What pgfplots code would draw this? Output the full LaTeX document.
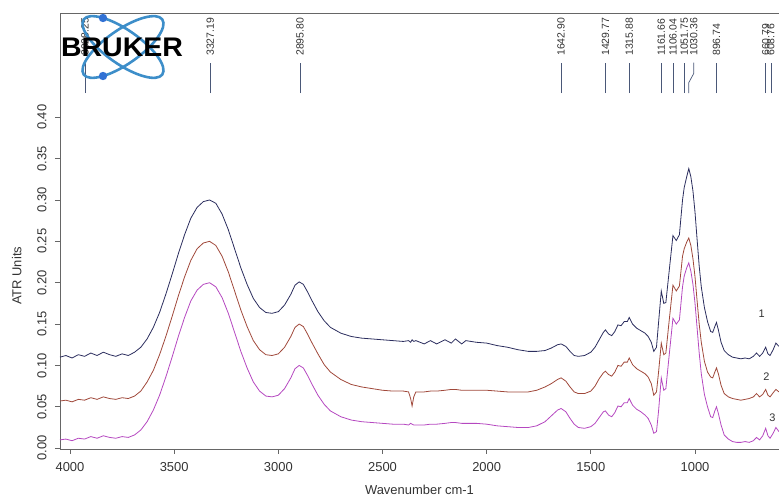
\documentclass[border=0pt]{standalone}
\usepackage{fontspec}
\setmainfont{Liberation Sans}
\usepackage{pgfplots}
\pgfplotsset{compat=1.18}
\usepackage{pgfplotstable}
\definecolor{sp1}{HTML}{2B2D5E}
\definecolor{sp2}{HTML}{A0483A}
\definecolor{sp3}{HTML}{B548C0}
\definecolor{peakc}{HTML}{4A5878}
\definecolor{axc}{HTML}{666666}
\definecolor{txc}{HTML}{333333}
\definecolor{logob}{HTML}{3D8EC9}

% wavenumber, spectrum 1 (top), 2, 3 (bottom)
\pgfplotstableread{
wn c1 c2 c3
4048 0.110 0.057 0.010
4020 0.112 0.058 0.011
3990 0.109 0.056 0.009
3960 0.113 0.059 0.012
3930 0.111 0.058 0.011
3900 0.115 0.061 0.014
3870 0.112 0.059 0.012
3840 0.116 0.062 0.015
3810 0.113 0.060 0.013
3780 0.111 0.059 0.012
3750 0.114 0.061 0.014
3720 0.112 0.060 0.013
3690 0.116 0.063 0.016
3660 0.122 0.069 0.022
3630 0.132 0.080 0.032
3600 0.146 0.094 0.046
3570 0.164 0.113 0.064
3540 0.186 0.135 0.086
3510 0.210 0.159 0.110
3480 0.235 0.184 0.135
3450 0.258 0.207 0.158
3420 0.278 0.227 0.178
3390 0.291 0.241 0.191
3360 0.298 0.248 0.198
3330 0.300 0.250 0.200
3300 0.296 0.245 0.195
3270 0.283 0.232 0.182
3240 0.264 0.213 0.163
3210 0.241 0.190 0.140
3180 0.218 0.167 0.117
3150 0.198 0.147 0.097
3120 0.181 0.130 0.080
3090 0.170 0.119 0.069
3060 0.164 0.113 0.063
3030 0.163 0.112 0.062
3000 0.165 0.114 0.064
2970 0.173 0.122 0.072
2940 0.186 0.135 0.085
2920 0.197 0.146 0.096
2900 0.201 0.150 0.100
2880 0.198 0.147 0.097
2860 0.189 0.138 0.088
2840 0.179 0.128 0.078
2810 0.165 0.114 0.064
2780 0.154 0.101 0.053
2750 0.146 0.092 0.045
2700 0.139 0.083 0.038
2650 0.135 0.077 0.034
2600 0.133 0.074 0.032
2550 0.132 0.072 0.031
2500 0.131 0.070 0.030
2450 0.130 0.069 0.029
2400 0.129 0.069 0.029
2375 0.130 0.068 0.028
2365 0.128 0.060 0.030
2358 0.131 0.051 0.029
2350 0.129 0.062 0.028
2340 0.130 0.068 0.028
2300 0.126 0.068 0.028
2270 0.130 0.069 0.029
2240 0.126 0.069 0.029
2200 0.131 0.070 0.030
2170 0.127 0.071 0.031
2150 0.132 0.071 0.031
2120 0.126 0.070 0.030
2100 0.130 0.070 0.030
2050 0.128 0.070 0.030
2000 0.127 0.070 0.029
1950 0.124 0.069 0.027
1900 0.122 0.068 0.026
1850 0.119 0.068 0.025
1800 0.117 0.068 0.025
1760 0.117 0.070 0.027
1720 0.118 0.074 0.032
1690 0.121 0.078 0.039
1660 0.125 0.083 0.046
1643 0.126 0.085 0.048
1620 0.123 0.081 0.044
1600 0.117 0.074 0.036
1580 0.112 0.068 0.029
1560 0.111 0.066 0.025
1530 0.112 0.066 0.024
1500 0.116 0.069 0.026
1480 0.122 0.075 0.030
1460 0.131 0.084 0.037
1440 0.140 0.091 0.044
1430 0.143 0.093 0.045
1415 0.138 0.089 0.040
1400 0.136 0.087 0.038
1385 0.141 0.092 0.043
1370 0.149 0.100 0.051
1355 0.148 0.099 0.050
1340 0.153 0.104 0.055
1325 0.153 0.104 0.055
1316 0.158 0.109 0.060
1300 0.150 0.101 0.052
1280 0.145 0.096 0.047
1260 0.142 0.093 0.044
1240 0.139 0.090 0.040
1225 0.135 0.086 0.036
1210 0.128 0.078 0.028
1198 0.117 0.064 0.018
1185 0.122 0.068 0.020
1175 0.152 0.092 0.045
1162 0.190 0.127 0.085
1150 0.175 0.113 0.070
1140 0.176 0.115 0.072
1125 0.212 0.152 0.110
1106 0.257 0.197 0.157
1090 0.251 0.190 0.150
1075 0.258 0.196 0.155
1060 0.300 0.232 0.195
1052 0.315 0.241 0.208
1040 0.328 0.249 0.218
1030 0.338 0.254 0.224
1020 0.328 0.245 0.214
1010 0.311 0.229 0.198
1000 0.285 0.207 0.175
990 0.252 0.178 0.145
980 0.220 0.150 0.115
970 0.195 0.128 0.090
955 0.170 0.105 0.065
940 0.153 0.092 0.050
925 0.141 0.086 0.038
915 0.140 0.085 0.037
905 0.147 0.092 0.045
897 0.152 0.097 0.050
888 0.143 0.090 0.042
875 0.128 0.076 0.028
860 0.118 0.066 0.016
840 0.113 0.062 0.011
820 0.110 0.060 0.008
800 0.109 0.059 0.007
780 0.108 0.058 0.007
760 0.109 0.059 0.008
740 0.108 0.060 0.007
720 0.111 0.062 0.009
705 0.115 0.066 0.013
690 0.111 0.062 0.010
675 0.115 0.065 0.015
661 0.122 0.071 0.024
650 0.114 0.064 0.015
640 0.112 0.062 0.012
625 0.119 0.067 0.018
612 0.127 0.071 0.025
597 0.123 0.068 0.020
}\spectra

\begin{document}
\begin{tikzpicture}
\begin{axis}[name=ax, scale only axis, width=719bp, height=436bp,
  x dir=reverse, xmin=597, xmax=4048, ymin=-0.001, ymax=0.526,
  axis x line*=box, axis y line*=left, clip=false,
  xtick={1000,1500,2000,2500,3000,3500,4000},
  ytick={0,0.05,0.1,0.15,0.2,0.25,0.3,0.35,0.4},
  xtick pos=bottom, ytick pos=left, tick align=outside, major tick length=5bp,
  xticklabel shift=5bp, yticklabel shift=5bp,
  axis line style={axc, line width=0.8bp}, tick style={axc, line width=0.8bp},
  every tick label/.append style={font=\fontsize{13}{15}\selectfont, text=txc},
  /pgf/number format/assume math mode=true,
  xticklabel style={/pgf/number format/1000 sep={}},
  yticklabel style={rotate=90, anchor=south, /pgf/number format/fixed, /pgf/number format/fixed zerofill, /pgf/number format/precision=2},
  xlabel={Wavenumber cm-1}, ylabel={ATR Units},
  label style={font=\fontsize{13}{15}\selectfont, text=txc},
  xlabel style={at={(axis description cs:0.5,-0.094)}, anchor=center},
  ylabel style={at={(axis description cs:-0.06,0.397)}, anchor=center, rotate=0},
]
\addplot[sp1, line width=0.8bp] table[x=wn, y=c1] {\spectra};
\addplot[sp2, line width=0.8bp] table[x=wn, y=c2] {\spectra};
\addplot[sp3, line width=0.8bp] table[x=wn, y=c3] {\spectra};

% peak picking marks
\foreach \p in {3928.25,3327.19,2895.80,1642.90,1429.77,1315.88,1161.66,1106.04,1051.75,896.74,660.79,636}{
  \edef\tmp{\noexpand\addplot[peakc, line width=0.7bp] coordinates {(\p,0.429) (\p,0.466)};}\tmp
}
\addplot[peakc, line width=0.7bp] coordinates {(1030.36,0.429) (1030.36,0.4417) (1006,0.453) (1006,0.466)};
\foreach \p/\t in {3928.25/3928.25,3327.19/3327.19,2895.80/2895.80,1642.90/1642.90,1429.77/1429.77,1315.88/1315.88,1161.66/1161.66,1106.04/1106.04,1051.75/1051.75,1006/1030.36,896.74/896.74,660.79/660.79,636/608.76}{
  \edef\tmp{\noexpand\node[rotate=90, anchor=west, inner sep=0pt, font=\noexpand\fontsize{10.5}{12}\noexpand\selectfont, text=txc] at (axis cs:\p,0.474) {\t};}\tmp
}
\node[font=\fontsize{11}{13}\selectfont, text=txc] at (axis cs:680,0.163) {1};
\node[font=\fontsize{11}{13}\selectfont, text=txc] at (axis cs:657,0.086) {2};
\node[font=\fontsize{11}{13}\selectfont, text=txc] at (axis cs:628,0.037) {3};
\end{axis}

% logo
\begin{scope}[shift={(ax.north west)}]
  \draw[logob, line width=2.6bp, rotate around={-35:(63bp,-34bp)}] (63bp,-34bp) ellipse [x radius=48bp, y radius=17bp];
  \draw[logob, line width=2.6bp, rotate around={35:(63bp,-34bp)}] (63bp,-34bp) ellipse [x radius=48bp, y radius=17bp];
  \fill[logob!80!blue] (43bp,-5bp) circle (4.2bp);
  \fill[logob!80!blue] (43bp,-63bp) circle (4.2bp);
  \node[font=\fontsize{27}{30}\selectfont\bfseries, text=black, inner sep=0pt, xscale=1.06] at (62bp,-34bp) {BRUKER};
\end{scope}

\pgfresetboundingbox
\path[use as bounding box] ([xshift=-60bp, yshift=-48bp]ax.south west) rectangle ([yshift=13bp]ax.north east);
\end{tikzpicture}
\end{document}
